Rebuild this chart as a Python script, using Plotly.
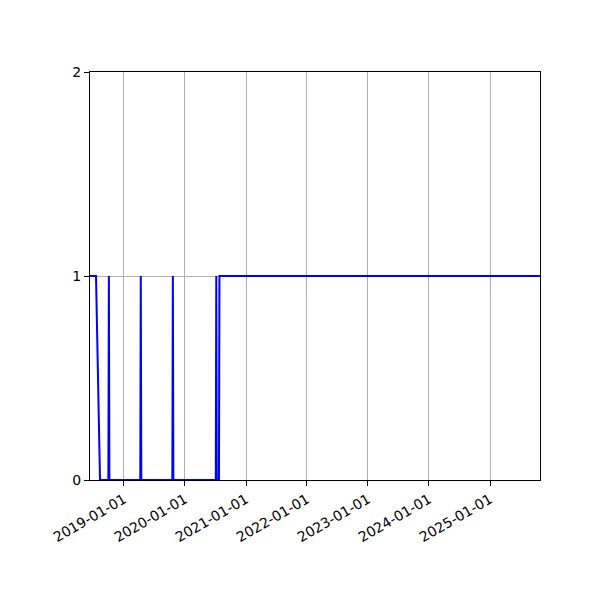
import plotly.graph_objects as go

# Change points of the series (line is drawn straight between them)
dates = ["2018-06-12", "2018-07-18", "2018-08-11",
         "2018-09-30", "2018-10-03", "2018-10-06",
         "2019-04-09", "2019-04-12", "2019-04-15",
         "2019-10-18", "2019-10-21", "2019-10-24",
         "2020-07-04", "2020-07-07", "2020-07-10",
         "2020-07-23", "2020-07-26", "2025-10-27"]
values = [1, 1, 0,
          0, 1, 0,
          0, 1, 0,
          0, 1, 0,
          0, 1, 0,
          0, 1, 1]

x_range = ["2018-06-12", "2025-10-27"]
y_ticks = [0, 1, 2]

fig = go.Figure()
fig.add_trace(go.Scatter(x=dates, y=values, mode="lines",
                         line=dict(color="#0000ff", width=2),
                         showlegend=False, hoverinfo="skip"))

axis_common = dict(showline=True, mirror=True, linecolor="black", linewidth=1,
                   ticks="outside", ticklen=5, tickwidth=1, tickcolor="black",
                   showgrid=True, gridcolor="#b0b0b0", gridwidth=1,
                   zeroline=False,
                   tickfont=dict(family="DejaVu Sans", size=14, color="black"))

fig.update_layout(
    width=592, height=592,
    margin=dict(l=82, r=60, t=64, b=120),
    paper_bgcolor="white", plot_bgcolor="white",
    xaxis=dict(type="date", range=x_range, tick0="2019-01-01", dtick="M12",
               tickformat="%Y-%m-%d", tickangle=-30, **axis_common),
    yaxis=dict(range=[0, 2], tickvals=y_ticks, ticktext=[str(v) for v in y_ticks],
               **axis_common),
)

fig.write_html("out.html")
